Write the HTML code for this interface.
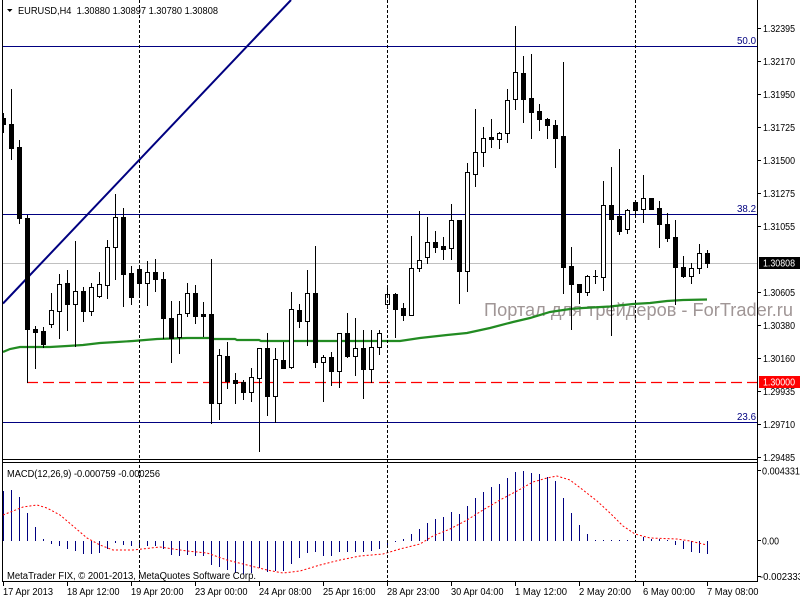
<!DOCTYPE html>
<html>
<head>
<meta charset="utf-8">
<style>
html,body{margin:0;padding:0;background:#fff;}
svg{display:block;}
text{font-family:"Liberation Sans",Arial,sans-serif;}
</style>
</head>
<body>
<svg width="800" height="600" viewBox="0 0 800 600" xmlns="http://www.w3.org/2000/svg">
<defs>
<clipPath id="main"><rect x="3" y="0" width="754" height="459"/></clipPath>
<clipPath id="sub"><rect x="3" y="463" width="754" height="118"/></clipPath>
</defs>
<rect width="800" height="600" fill="#fff"/>

<!-- watermark -->
<text x="484" y="316" font-size="18" fill="#a09696" textLength="309" lengthAdjust="spacingAndGlyphs">Портал для трейдеров - ForTrader.ru</text>

<g clip-path="url(#main)">
<!-- current price line -->
<line x1="2" y1="263.5" x2="757" y2="263.5" stroke="#c0c0c0" stroke-width="1"/>
<!-- fibo lines -->
<line x1="2" y1="46.5" x2="757" y2="46.5" stroke="#000080" stroke-width="1"/>
<line x1="2" y1="214.5" x2="757" y2="214.5" stroke="#000080" stroke-width="1"/>
<line x1="2" y1="422.5" x2="757" y2="422.5" stroke="#000080" stroke-width="1"/>
<!-- red dashed -->
<line x1="27" y1="382.5" x2="757" y2="382.5" stroke="#ff0000" stroke-width="1.3" stroke-dasharray="11 5"/>
<!-- trend line -->
<line x1="3" y1="303.5" x2="291" y2="0" stroke="#000080" stroke-width="2"/>
<!-- moving average -->
<polyline fill="none" stroke="#228b22" stroke-width="2.2" points="3,352 10,349 20,347 50,347 67,346 83,345 100,343 117,342 133,341 157,339 187,338 210,338 212,339 235,339 237,340 259,340 261,341 400,341 420,338 447,335 467,333 490,328 513,322 530,318 550,312 570,309 583,308 610,306.5 633,304 650,303 667,301 683,300 707,299.5"/>

<!-- wicks -->
<path fill="none" stroke="#000" stroke-width="1" d="M3.5 113V133 M11.5 89V160 M19.5 140V224 M27.5 215V383 M35.5 326V369 M43.5 327V348 M51.5 293V328 M59.5 274V339 M67.5 270V331 M75.5 241V347 M83.5 287V322 M91.5 283V316 M99.5 272V298 M107.5 240V299 M115.5 194V280 M123.5 208V307 M131.5 266V305 M139.5 266V297 M147.5 261V306 M155.5 259V292 M163.5 272V339 M171.5 301V363 M179.5 301V354 M187.5 283V317 M195.5 285V324 M203.5 302V337 M211.5 259V424 M219.5 349V420 M227.5 342V389 M235.5 373V404 M243.5 380V400 M251.5 368V402 M259.5 348V452 M267.5 333V416 M275.5 348V423 M283.5 342V369 M291.5 292V369 M299.5 304V328 M307.5 270V346 M315.5 246V368 M323.5 355V402 M331.5 352V386 M339.5 333V388 M347.5 313V358 M355.5 318V376 M363.5 330V399 M371.5 330V383 M379.5 330V355 M387.5 285V309 M395.5 293V338 M403.5 303V321 M411.5 236V316 M419.5 211V272 M427.5 217V264 M435.5 231V253 M443.5 237V260 M451.5 204V260 M459.5 220V304 M467.5 163V292 M475.5 109V187 M483.5 127V167 M491.5 119V148 M499.5 132V149 M507.5 89V143 M515.5 26V110 M523.5 56V123 M531.5 54V139 M539.5 104V131 M547.5 118V139 M555.5 120V168 M563.5 62V294 M571.5 247V330 M579.5 284V304 M587.5 275V296 M595.5 270V284 M603.5 181V291 M611.5 167V336 M619.5 149V235 M627.5 209V234 M635.5 201V217 M643.5 175V223 M651.5 198V210 M659.5 201V248 M667.5 213V242 M675.5 220V305 M683.5 256V278 M691.5 263V284 M699.5 244V274 M707.5 250V268"/>

<!-- bear bodies -->
<path fill="#000" d="M1 118h5v7h-5z M9 124h5v25h-5z M17 147h5v72h-5z M25 218h5v112h-5z M33 329h5v4h-5z M41 331h5v14h-5z M65 283h5v22h-5z M81 291h5v21h-5z M121 217h5v58h-5z M129 273h5v25h-5z M137 269h5v15h-5z M153 272h5v8h-5z M161 279h5v40h-5z M169 318h5v21h-5z M193 293h5v24h-5z M201 314h5v3h-5z M209 314h5v90h-5z M225 356h5v26h-5z M233 380h5v4h-5z M241 382h5v11h-5z M265 348h5v49h-5z M281 360h5v9h-5z M297 310h5v12h-5z M313 293h5v70h-5z M329 357h5v15h-5z M345 333h5v24h-5z M361 348h5v22h-5z M393 294h5v16h-5z M401 308h5v8h-5z M433 242h5v6h-5z M441 246h5v4h-5z M457 220h5v52h-5z M489 137h5v3h-5z M521 73h5v27h-5z M529 98h5v15h-5z M537 111h5v9h-5z M545 119h5v7h-5z M553 125h5v14h-5z M561 136h5v132h-5z M569 266h5v19h-5z M577 284h5v9h-5z M593 276h5v1h-5z M609 205h5v15h-5z M617 216h5v16h-5z M633 202h5v9h-5z M649 198h5v12h-5z M657 208h5v17h-5z M665 224h5v15h-5z M673 237h5v31h-5z M681 267h5v10h-5z M705 253h5v11h-5z"/>

<!-- bull bodies -->
<path fill="#fff" stroke="#000" stroke-width="1" d="M49.5 310.5h4v14h-4z M57.5 284.5h4v27h-4z M73.5 291.5h4v13h-4z M89.5 287.5h4v24h-4z M97.5 284.5h4v12h-4z M105.5 247.5h4v38h-4z M113.5 217.5h4v30h-4z M145.5 272.5h4v11h-4z M177.5 314.5h4v23h-4z M185.5 293.5h4v20h-4z M217.5 355.5h4v48h-4z M249.5 377.5h4v15h-4z M257.5 348.5h4v30h-4z M273.5 359.5h4v37h-4z M289.5 309.5h4v58h-4z M305.5 293.5h4v28h-4z M321.5 357.5h4v5h-4z M337.5 333.5h4v38h-4z M353.5 348.5h4v8h-4z M369.5 347.5h4v22h-4z M377.5 333.5h4v14h-4z M385.5 294.5h4v10h-4z M409.5 268.5h4v47h-4z M417.5 260.5h4v8h-4z M425.5 242.5h4v15h-4z M449.5 220.5h4v28h-4z M465.5 172.5h4v99h-4z M473.5 152.5h4v22h-4z M481.5 138.5h4v14h-4z M497.5 133.5h4v6h-4z M505.5 100.5h4v33h-4z M513.5 72.5h4v27h-4z M585.5 276.5h4v16h-4z M601.5 205.5h4v72h-4z M625.5 210.5h4v19h-4z M641.5 198.5h4v11h-4z M689.5 268.5h4v8h-4z M697.5 253.5h4v15h-4z"/>
</g>

<!-- fibo labels -->
<text x="737" y="44" font-size="10" fill="#000080" textLength="19" lengthAdjust="spacingAndGlyphs">50.0</text>
<text x="737" y="212" font-size="10" fill="#000080" textLength="19" lengthAdjust="spacingAndGlyphs">38.2</text>
<text x="737" y="420" font-size="10" fill="#000080" textLength="19" lengthAdjust="spacingAndGlyphs">23.6</text>

<!-- MACD -->
<g clip-path="url(#sub)">
<path fill="none" stroke="#000080" stroke-width="1" d="M3.5 541V491 M11.5 541V490 M19.5 541V497 M27.5 541V513 M35.5 541V527 M43.5 541V539 M51.5 541V544 M59.5 541V546 M67.5 541V549 M75.5 541V551 M83.5 541V554 M91.5 541V554 M99.5 541V553 M107.5 541V549 M115.5 541V543 M123.5 541V545 M131.5 541V546 M139.5 541V546 M147.5 541V546 M155.5 541V546 M163.5 541V549 M171.5 541V555 M179.5 541V556 M187.5 541V555 M195.5 541V556 M203.5 541V556 M211.5 541V565 M219.5 541V567 M227.5 541V570 M235.5 541V573 M243.5 541V574 M251.5 541V573 M259.5 541V568 M267.5 541V572 M275.5 541V571 M283.5 541V571 M291.5 541V564 M299.5 541V558 M307.5 541V553 M315.5 541V552 M323.5 541V556 M331.5 541V556 M339.5 541V552 M347.5 541V552 M355.5 541V552 M363.5 541V552 M371.5 541V551 M379.5 541V549 M387.5 541V545 M395.5 541V542 M403.5 541V539 M411.5 541V534 M419.5 541V529 M427.5 541V523 M435.5 541V519 M443.5 541V517 M451.5 541V512 M459.5 541V514 M467.5 541V506 M475.5 541V498 M483.5 541V492 M491.5 541V487 M499.5 541V484 M507.5 541V478 M515.5 541V472 M523.5 541V471 M531.5 541V473 M539.5 541V474 M547.5 541V477 M555.5 541V481 M563.5 541V498 M571.5 541V513 M579.5 541V525 M587.5 541V534 M595.5 541V540 M603.5 541V540 M611.5 541V540 M619.5 541V540 M627.5 541V540 M635.5 541V540 M643.5 541V537 M651.5 541V539 M659.5 541V539 M667.5 541V540 M675.5 541V545 M683.5 541V549 M691.5 541V552 M699.5 541V553 M707.5 541V554"/>
<polyline fill="none" stroke="#ff0000" stroke-width="1" stroke-dasharray="2 2" points="3,515 13,511 23,507 37,505 47,508 60,515 73,526 87,538 100,545 113,550 133,550 160,547 187,551 207,553 227,560 247,565 267,570 283,573 300,571 320,565 340,560 360,556 383,554 400,549 420,544 433,536 450,529 467,520 483,510 500,500 517,491 533,482 547,478 557,476 570,480 583,490 597,501 610,513 623,526 635,534 650,538 677,539 690,541 707,545"/>
</g>

<!-- vertical dashed separators -->
<g stroke="#000" stroke-width="1" stroke-dasharray="3 2">
<line x1="139.5" y1="0" x2="139.5" y2="581"/>
<line x1="387.5" y1="0" x2="387.5" y2="581"/>
<line x1="635.5" y1="0" x2="635.5" y2="581"/>
</g>

<!-- frames -->
<g stroke="#000" stroke-width="1" fill="none">
<line x1="2.5" y1="0" x2="2.5" y2="582"/>
<line x1="757.5" y1="0" x2="757.5" y2="582"/>
<line x1="2" y1="459.5" x2="758" y2="459.5"/>
<line x1="2" y1="462.5" x2="758" y2="462.5"/>
<line x1="2" y1="581.5" x2="758" y2="581.5"/>
</g>

<!-- price axis ticks -->
<path stroke="#000" stroke-width="1" d="M757 28.5h4 M757 61.5h4 M757 94.5h4 M757 127.5h4 M757 160.5h4 M757 193.5h4 M757 226.5h4 M757 292.5h4 M757 325.5h4 M757 358.5h4 M757 391.5h4 M757 424.5h4 M757 457.5h4 M757 470.5h4 M757 540.5h4 M757 576.5h4"/>
<!-- time axis ticks -->
<path stroke="#000" stroke-width="1" d="M3.5 582v4 M67.5 582v4 M131.5 582v4 M195.5 582v4 M259.5 582v4 M323.5 582v4 M387.5 582v4 M451.5 582v4 M515.5 582v4 M579.5 582v4 M643.5 582v4 M707.5 582v4"/>

<!-- price labels -->
<g font-size="10" fill="#000">
<text x="763" y="32" textLength="32" lengthAdjust="spacingAndGlyphs">1.32395</text>
<text x="763" y="65" textLength="32" lengthAdjust="spacingAndGlyphs">1.32170</text>
<text x="763" y="98" textLength="32" lengthAdjust="spacingAndGlyphs">1.31950</text>
<text x="763" y="131" textLength="32" lengthAdjust="spacingAndGlyphs">1.31725</text>
<text x="763" y="164" textLength="32" lengthAdjust="spacingAndGlyphs">1.31500</text>
<text x="763" y="197" textLength="32" lengthAdjust="spacingAndGlyphs">1.31275</text>
<text x="763" y="230" textLength="32" lengthAdjust="spacingAndGlyphs">1.31055</text>
<text x="763" y="296" textLength="32" lengthAdjust="spacingAndGlyphs">1.30605</text>
<text x="763" y="329" textLength="32" lengthAdjust="spacingAndGlyphs">1.30380</text>
<text x="763" y="362" textLength="32" lengthAdjust="spacingAndGlyphs">1.30160</text>
<text x="763" y="395" textLength="32" lengthAdjust="spacingAndGlyphs">1.29935</text>
<text x="763" y="428" textLength="32" lengthAdjust="spacingAndGlyphs">1.29710</text>
<text x="763" y="461" textLength="32" lengthAdjust="spacingAndGlyphs">1.29485</text>
<text x="762" y="474.5" textLength="38" lengthAdjust="spacingAndGlyphs">0.004331</text>
<text x="762" y="544.5" textLength="17" lengthAdjust="spacingAndGlyphs">0.00</text>
<text x="760" y="580" textLength="43" lengthAdjust="spacingAndGlyphs">-0.002333</text>
</g>
<!-- current price / level boxes -->
<rect x="759" y="257" width="41" height="12" fill="#000"/>
<text x="763" y="266.5" font-size="10" fill="#fff" textLength="32" lengthAdjust="spacingAndGlyphs">1.30808</text>
<rect x="759" y="376" width="41" height="12" fill="#ff0000"/>
<text x="763" y="385.5" font-size="10" fill="#fff" textLength="32" lengthAdjust="spacingAndGlyphs">1.30000</text>

<!-- time labels -->
<g font-size="10" fill="#000">
<text x="3" y="595" textLength="50" lengthAdjust="spacingAndGlyphs">17 Apr 2013</text>
<text x="67" y="595" textLength="52.5" lengthAdjust="spacingAndGlyphs">18 Apr 12:00</text>
<text x="131" y="595" textLength="52.5" lengthAdjust="spacingAndGlyphs">19 Apr 20:00</text>
<text x="195" y="595" textLength="52.5" lengthAdjust="spacingAndGlyphs">23 Apr 00:00</text>
<text x="259" y="595" textLength="52.5" lengthAdjust="spacingAndGlyphs">24 Apr 08:00</text>
<text x="323" y="595" textLength="52.5" lengthAdjust="spacingAndGlyphs">25 Apr 16:00</text>
<text x="387" y="595" textLength="52.5" lengthAdjust="spacingAndGlyphs">28 Apr 23:00</text>
<text x="451" y="595" textLength="52.5" lengthAdjust="spacingAndGlyphs">30 Apr 04:00</text>
<text x="515" y="595" textLength="52" lengthAdjust="spacingAndGlyphs">1 May 12:00</text>
<text x="579" y="595" textLength="52" lengthAdjust="spacingAndGlyphs">2 May 20:00</text>
<text x="643" y="595" textLength="52" lengthAdjust="spacingAndGlyphs">6 May 00:00</text>
<text x="707" y="595" textLength="51.5" lengthAdjust="spacingAndGlyphs">7 May 08:00</text>
</g>

<!-- title -->
<polygon points="7,9 12.5,9 9.75,12" fill="#000"/>
<text x="18" y="14" font-size="10" fill="#000" textLength="200" lengthAdjust="spacingAndGlyphs">EURUSD,H4 &#160;1.30880 1.30897 1.30780 1.30808</text>
<text x="7" y="477" font-size="10" fill="#000" textLength="153" lengthAdjust="spacingAndGlyphs">MACD(12,26,9) -0.000759 -0.000256</text>
<text x="7" y="579" font-size="10" fill="#000" textLength="249" lengthAdjust="spacingAndGlyphs">MetaTrader FIX, © 2001-2013, MetaQuotes Software Corp.</text>
</svg>
</body>
</html>
